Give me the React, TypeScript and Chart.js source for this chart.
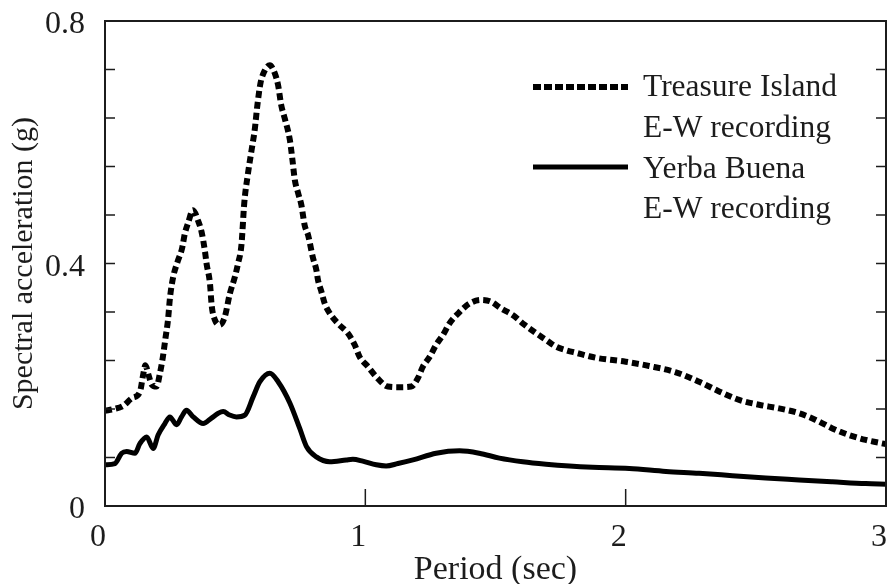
import { useEffect, useRef } from "react";
import { Chart, registerables } from "chart.js";

Chart.register(...registerables);

const FONT = "'Liberation Serif', 'Times New Roman', serif";
const INK = "#1c1c1c";

// Treasure Island E-W recording (dotted)
const tiPeriod = [
  0, 0.035, 0.069, 0.104, 0.134, 0.146, 0.155, 0.168, 0.18, 0.198, 0.211, 0.222, 0.232, 0.242, 0.25,
  0.262, 0.278, 0.296, 0.307, 0.32, 0.338, 0.358, 0.371, 0.384, 0.39, 0.403, 0.41, 0.422, 0.441, 0.46,
  0.48, 0.499, 0.511, 0.524, 0.535, 0.548, 0.563, 0.575, 0.585, 0.597, 0.61, 0.633, 0.652, 0.665, 0.677,
  0.69, 0.71, 0.72, 0.729, 0.742, 0.754, 0.767, 0.78, 0.799, 0.812, 0.818, 0.831, 0.844, 0.863, 0.895,
  0.933, 0.959, 0.978, 1.01, 1.042, 1.087, 1.132, 1.176, 1.202, 1.221, 1.247, 1.272, 1.298, 1.323, 1.362,
  1.4, 1.445, 1.483, 1.521, 1.566, 1.611, 1.656, 1.694, 1.732, 1.771, 1.816, 1.86, 1.892, 2.0, 2.09,
  2.19, 2.282, 2.359, 2.436, 2.512, 2.589, 2.666, 2.73, 2.794, 2.858, 2.922, 3.0,
];
const tiAccel = [
  0.157, 0.16, 0.165, 0.178, 0.188, 0.215, 0.232, 0.215, 0.2, 0.197, 0.219, 0.245, 0.276, 0.307, 0.345,
  0.378, 0.402, 0.425, 0.45, 0.468, 0.488, 0.47, 0.452, 0.42, 0.4, 0.368, 0.33, 0.307, 0.299, 0.312,
  0.351, 0.378, 0.4, 0.43, 0.5, 0.545, 0.587, 0.62, 0.66, 0.697, 0.715, 0.727, 0.714, 0.694, 0.661,
  0.64, 0.604, 0.571, 0.538, 0.516, 0.497, 0.463, 0.447, 0.409, 0.389, 0.373, 0.354, 0.334, 0.318, 0.301,
  0.285, 0.266, 0.246, 0.23, 0.213, 0.197, 0.196, 0.197, 0.211, 0.23, 0.246, 0.266, 0.282, 0.301, 0.32,
  0.334, 0.34, 0.337, 0.326, 0.315, 0.299, 0.285, 0.274, 0.263, 0.257, 0.252, 0.247, 0.244, 0.238, 0.231,
  0.221, 0.205, 0.189, 0.175, 0.167, 0.161, 0.153, 0.142, 0.128, 0.117, 0.109, 0.102,
];

// Yerba Buena E-W recording (solid)
const ybPeriod = [
  0, 0.038, 0.064, 0.083, 0.115, 0.134, 0.16, 0.185, 0.204, 0.23, 0.249, 0.275, 0.294, 0.313, 0.339,
  0.377, 0.409, 0.435, 0.454, 0.479, 0.505, 0.537, 0.569, 0.595, 0.633, 0.665, 0.71, 0.748, 0.774, 0.812,
  0.863, 0.927, 0.952, 0.99, 1.042, 1.08, 1.125, 1.183, 1.272, 1.362, 1.438, 1.515, 1.605, 1.694, 1.784,
  1.873, 2.014, 2.155, 2.282, 2.41, 2.538, 2.666, 2.794, 2.922, 3.0,
];
const ybAccel = [
  0.068, 0.07, 0.087, 0.09, 0.087, 0.103, 0.114, 0.095, 0.117, 0.136, 0.147, 0.134, 0.147, 0.158, 0.147,
  0.136, 0.145, 0.153, 0.156, 0.15, 0.147, 0.15, 0.18, 0.205, 0.219, 0.205, 0.17, 0.128, 0.098, 0.081,
  0.073, 0.076, 0.077, 0.074, 0.068, 0.066, 0.07, 0.076, 0.087, 0.091, 0.087, 0.079, 0.073, 0.069, 0.066,
  0.064, 0.062, 0.057, 0.054, 0.05, 0.046, 0.043, 0.04, 0.037, 0.036,
];

const xMin = 0;
const xMax = 3;
const xStep = 1;
const yMin = 0;
const yMax = 0.8;
const yStep = 0.08;
const yLabelEvery = 5;

const seriesNames = ["Treasure Island", "Yerba Buena"];
const legendSubtitle = "E-W recording";
const xTitle = "Period (sec)";
const yTitle = "Spectral acceleration (g)";

const toPoints = (xs: number[], ys: number[]) => xs.map((x, i) => ({ x, y: ys[i] }));

const framePlugin = {
  id: "frameAndLegend",
  afterDatasetsDraw(chart: any) {
    const { ctx, chartArea: a, scales } = chart;
    ctx.save();
    // frame
    ctx.strokeStyle = INK;
    ctx.lineWidth = 2;
    ctx.strokeRect(a.left, a.top, a.right - a.left, a.bottom - a.top);
    // inward ticks
    ctx.lineWidth = 1.5;
    ctx.beginPath();
    scales.y.ticks.forEach((t: any) => {
      const py = scales.y.getPixelForValue(t.value);
      ctx.moveTo(a.left, py);
      ctx.lineTo(a.left + 10, py);
      ctx.moveTo(a.right - 10, py);
      ctx.lineTo(a.right, py);
    });
    scales.x.ticks.forEach((t: any) => {
      if (t.value <= xMin || t.value >= xMax) return;
      const px = scales.x.getPixelForValue(t.value);
      ctx.moveTo(px, a.bottom);
      ctx.lineTo(px, a.bottom - 17);
    });
    ctx.stroke();

    // legend
    const sx0 = a.right - 353;
    const sx1 = a.right - 258;
    const tx = a.right - 243;
    ctx.fillStyle = INK;
    ctx.font = `31.5px ${FONT}`;
    ctx.textAlign = "left";
    ctx.textBaseline = "alphabetic";

    ctx.strokeStyle = "#000";
    ctx.lineCap = "butt";
    ctx.lineWidth = 6;
    ctx.setLineDash([8, 3]);
    ctx.beginPath();
    ctx.moveTo(sx0, a.top + 66);
    ctx.lineTo(sx1, a.top + 66);
    ctx.stroke();
    ctx.setLineDash([]);
    ctx.lineWidth = 5;
    ctx.beginPath();
    ctx.moveTo(sx0, a.top + 146);
    ctx.lineTo(sx1, a.top + 146);
    ctx.stroke();

    ctx.fillText(seriesNames[0], tx, a.top + 75);
    ctx.fillText(legendSubtitle, tx, a.top + 116);
    ctx.fillText(seriesNames[1], tx, a.top + 157);
    ctx.fillText(legendSubtitle, tx, a.top + 197);
    ctx.restore();
  },
};

export default function App() {
  const ref = useRef<HTMLCanvasElement>(null);
  useEffect(() => {
    const chart = new Chart(ref.current as HTMLCanvasElement, {
      type: "line",
      data: {
        datasets: [
          {
            label: seriesNames[0],
            data: toPoints(tiPeriod, tiAccel),
            borderColor: "#000",
            borderWidth: 6,
            borderDash: [7, 4],
            borderCapStyle: "butt",
            pointRadius: 0,
            cubicInterpolationMode: "monotone",
            fill: false,
          },
          {
            label: seriesNames[1],
            data: toPoints(ybPeriod, ybAccel),
            borderColor: "#000",
            borderWidth: 5,
            pointRadius: 0,
            cubicInterpolationMode: "monotone",
            fill: false,
          },
        ],
      },
      options: {
        animation: false,
        responsive: false,
        devicePixelRatio: 1,
        layout: { padding: { top: 21, right: 3, left: 0, bottom: 0 } },
        plugins: { legend: { display: false }, tooltip: { enabled: false } },
        scales: {
          x: {
            type: "linear",
            min: xMin,
            max: xMax,
            grid: { display: false, drawTicks: false },
            border: { display: false },
            ticks: {
              stepSize: xStep,
              autoSkip: false,
              maxRotation: 0,
              padding: 12,
              labelOffset: -7,
              color: INK,
              font: { family: FONT, size: 32 },
            },
            title: {
              display: true,
              text: xTitle,
              color: INK,
              font: { family: FONT, size: 34 },
              padding: { top: 0, bottom: -6 },
            },
            afterFit(s: any) {
              s.height = 78;
              s.paddingLeft = 0;
              s.paddingRight = 0;
            },
          },
          y: {
            type: "linear",
            min: yMin,
            max: yMax,
            grid: { display: false, drawTicks: false },
            border: { display: false },
            ticks: {
              stepSize: yStep,
              autoSkip: false,
              padding: 20,
              labelOffset: 4,
              color: INK,
              font: { family: FONT, size: 32 },
              callback: (v: any, i: number) =>
                i % yLabelEvery === 0 ? (Number(v) === 0 ? "0" : Number(v).toFixed(1)) : "",
            },
            title: {
              display: true,
              text: yTitle,
              color: INK,
              font: { family: FONT, size: 30 },
              padding: { top: 6, bottom: 0 },
            },
            afterFit(s: any) {
              s.width = 105;
              s.paddingTop = 0;
              s.paddingBottom = 0;
            },
          },
        },
      },
      plugins: [framePlugin],
    } as any);
    return () => chart.destroy();
  }, []);
  return (
    <div style={{ position: "absolute", left: 0, top: 0, width: 889, height: 584 }}>
      <canvas ref={ref} width={889} height={584} style={{ display: "block" }} />
    </div>
  );
}
